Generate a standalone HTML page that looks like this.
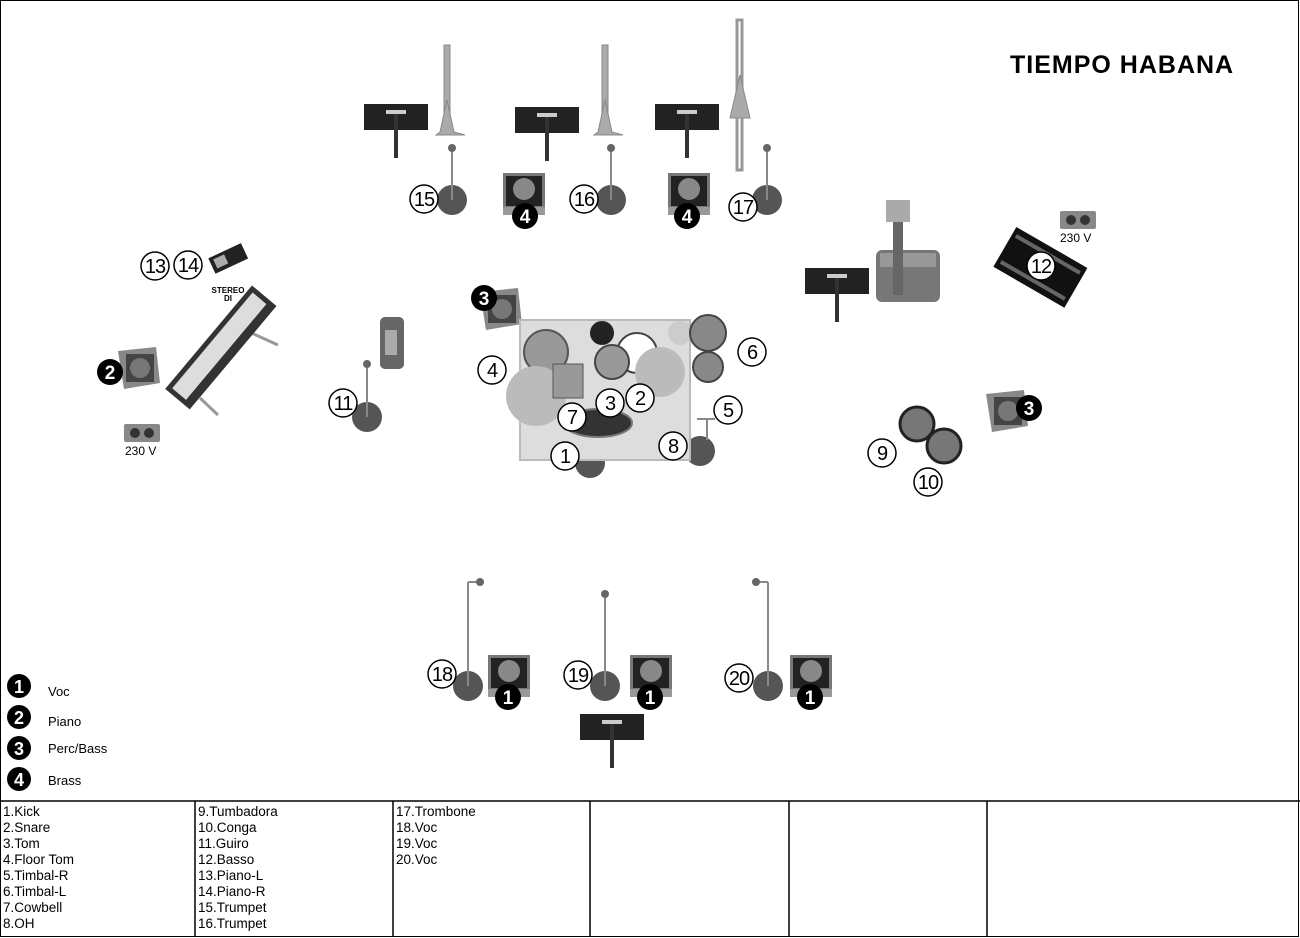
<!DOCTYPE html>
<html><head><meta charset="utf-8"><style>
html,body{margin:0;padding:0;background:#fff}
svg{display:block}
text{font-family:"Liberation Sans",sans-serif}
</style></head><body>
<svg width="1300" height="938" viewBox="0 0 1300 938" xmlns="http://www.w3.org/2000/svg">
<defs>
<g id="mon"><rect x="0" y="0" width="42" height="42" fill="#777"/><rect x="3" y="3" width="36" height="30" fill="#222"/><circle cx="21" cy="16" r="11" fill="#888"/><rect x="0" y="34" width="42" height="8" fill="#999"/></g>
<g id="stand"><rect x="0" y="0" width="64" height="26" fill="#222"/><rect x="22" y="6" width="20" height="4" fill="#ccc"/><rect x="30" y="10" width="4" height="44" fill="#333"/></g>
<g id="wedge"><polygon points="0,4 38,0 42,36 6,42" fill="#888"/><rect x="8" y="7" width="28" height="28" fill="#444"/><circle cx="22" cy="21" r="10" fill="#777"/></g>
<g id="outlet"><rect x="0" y="0" width="36" height="18" rx="2" fill="#888"/><circle cx="11" cy="9" r="5" fill="#333"/><circle cx="25" cy="9" r="5" fill="#333"/></g>
</defs>
<rect x="0.5" y="0.5" width="1298" height="936" fill="#fff" stroke="#000"/>
<text x="1010" y="73" font-size="25" font-weight="bold" letter-spacing="1">TIEMPO HABANA</text>

<use href="#stand" x="364" y="104"/><use href="#stand" x="515" y="107"/><use href="#stand" x="655" y="104"/><use href="#stand" x="805" y="268"/><use href="#stand" x="580" y="714"/>

<g fill="#aaa" stroke="#888"><rect x="444" y="45" width="6" height="80"/><polygon points="440,132 447,100 454,132 465,135 436,135"/>
<rect x="602" y="45" width="6" height="80"/><polygon points="598,132 605,100 612,132 623,135 594,135"/>
<rect x="737" y="20" width="5" height="150" fill="none" stroke="#999" stroke-width="3"/><polygon points="730,118 740,75 750,118"/></g>

<g fill="#555"><circle cx="452" cy="200" r="15"/><circle cx="611" cy="200" r="15"/><circle cx="767" cy="200" r="15"/><circle cx="367" cy="417" r="15"/><circle cx="590" cy="463" r="15"/><circle cx="700" cy="451" r="15"/><circle cx="468" cy="686" r="15"/><circle cx="605" cy="686" r="15"/><circle cx="768" cy="686" r="15"/></g>
<g stroke="#888" stroke-width="2"><line x1="452" y1="148" x2="452" y2="200"/><line x1="611" y1="148" x2="611" y2="200"/><line x1="767" y1="148" x2="767" y2="200"/><line x1="367" y1="364" x2="367" y2="417"/><line x1="468" y1="582" x2="468" y2="686"/><line x1="605" y1="594" x2="605" y2="686"/><line x1="768" y1="582" x2="768" y2="686"/><line x1="468" y1="582" x2="482" y2="582"/><line x1="754" y1="582" x2="768" y2="582"/></g>
<g fill="#666"><circle cx="452" cy="148" r="4"/><circle cx="611" cy="148" r="4"/><circle cx="767" cy="148" r="4"/><circle cx="367" cy="364" r="4"/><circle cx="605" cy="594" r="4"/><circle cx="480" cy="582" r="4"/><circle cx="756" cy="582" r="4"/></g>

<use href="#mon" x="503" y="173"/><use href="#mon" x="668" y="173"/><use href="#mon" x="488" y="655"/><use href="#mon" x="630" y="655"/><use href="#mon" x="790" y="655"/>
<use href="#wedge" x="480" y="288"/><use href="#wedge" x="118" y="347"/><use href="#wedge" x="986" y="390"/>

<use href="#outlet" x="1060" y="211"/><text x="1060" y="242" font-size="12">230 V</text>
<use href="#outlet" x="124" y="424"/><text x="125" y="455" font-size="12">230 V</text>

<g transform="rotate(-25 228 258)"><rect x="210" y="250" width="36" height="17" fill="#222"/><rect x="214" y="253" width="12" height="10" fill="#aaa"/></g>
<text x="228" y="293" font-size="8" font-weight="bold" text-anchor="middle">STEREO</text><text x="228" y="301" font-size="8" font-weight="bold" text-anchor="middle">DI</text>

<g stroke="#999" stroke-width="3"><line x1="245" y1="330" x2="278" y2="345"/><line x1="200" y1="398" x2="218" y2="415"/></g>
<g transform="rotate(-50 220 350)"><rect x="155" y="333" width="135" height="32" fill="#333"/><rect x="160" y="338" width="125" height="18" fill="#ddd"/></g>

<rect x="380" y="317" width="24" height="52" rx="5" fill="#666"/><rect x="385" y="330" width="12" height="25" fill="#aaa"/>

<rect x="520" y="320" width="170" height="140" fill="#ddd" stroke="#bbb" stroke-width="2"/>
<circle cx="546" cy="352" r="22" fill="#999" stroke="#555" stroke-width="2"/>
<circle cx="602" cy="333" r="12" fill="#222"/>
<circle cx="680" cy="333" r="12" fill="#ccc"/>
<circle cx="637" cy="353" r="20" fill="#fff" stroke="#444" stroke-width="2"/>
<circle cx="612" cy="362" r="17" fill="#999" stroke="#444" stroke-width="2"/>
<circle cx="660" cy="372" r="25" fill="#bbb"/>
<circle cx="536" cy="396" r="30" fill="#bbb"/>
<rect x="553" y="364" width="30" height="34" fill="#999" stroke="#555"/>
<ellipse cx="598" cy="423" rx="34" ry="14" fill="#333" stroke="#777" stroke-width="2"/>
<circle cx="708" cy="333" r="18" fill="#888" stroke="#444" stroke-width="2"/>
<circle cx="708" cy="367" r="15" fill="#888" stroke="#444" stroke-width="2"/>
<line x1="697" y1="419" x2="715" y2="419" stroke="#888" stroke-width="2"/><line x1="707" y1="419" x2="707" y2="440" stroke="#888" stroke-width="2"/>

<g transform="rotate(30 1040 266)"><rect x="1000" y="244" width="82" height="46" fill="#111"/><rect x="1004" y="250" width="74" height="4" fill="#666"/><rect x="1004" y="280" width="74" height="4" fill="#666"/></g>
<rect x="876" y="250" width="64" height="52" rx="6" fill="#777"/><rect x="880" y="253" width="56" height="14" fill="#999"/>
<rect x="893" y="220" width="10" height="75" fill="#666"/><rect x="886" y="200" width="24" height="22" fill="#aaa"/>

<circle cx="917" cy="424" r="17" fill="#777" stroke="#222" stroke-width="3"/>
<circle cx="944" cy="446" r="17" fill="#777" stroke="#222" stroke-width="3"/>

<g font-size="20" text-anchor="middle" font-family="Liberation Sans Narrow,Liberation Sans,sans-serif" letter-spacing="-1">
<g fill="#fff" stroke="#000" stroke-width="1.5">
<circle cx="424" cy="199" r="14"/><circle cx="584" cy="199" r="14"/><circle cx="743" cy="207" r="14"/><circle cx="155" cy="266" r="14"/><circle cx="188" cy="265" r="14"/><circle cx="343" cy="403" r="14"/><circle cx="492" cy="370" r="14"/><circle cx="752" cy="352" r="14"/><circle cx="728" cy="410" r="14"/><circle cx="640" cy="398" r="14"/><circle cx="610" cy="403" r="14"/><circle cx="572" cy="417" r="14"/><circle cx="565" cy="456" r="14"/><circle cx="673" cy="446" r="14"/><circle cx="882" cy="453" r="14"/><circle cx="928" cy="482" r="14"/><circle cx="1041" cy="266" r="14"/><circle cx="442" cy="674" r="14"/><circle cx="578" cy="675" r="14"/><circle cx="739" cy="678" r="14"/></g>
<text x="424" y="206">15</text><text x="584" y="206">16</text><text x="743" y="214">17</text><text x="155" y="273">13</text><text x="188" y="272">14</text><text x="343" y="410">11</text><text x="492" y="377">4</text><text x="752" y="359">6</text><text x="728" y="417">5</text><text x="640" y="405">2</text><text x="610" y="410">3</text><text x="572" y="424">7</text><text x="565" y="463">1</text><text x="673" y="453">8</text><text x="882" y="460">9</text><text x="928" y="489">10</text><text x="1041" y="273">12</text><text x="442" y="681">18</text><text x="578" y="682">19</text><text x="739" y="685">20</text>
</g>
<g font-size="19" font-weight="bold" text-anchor="middle" fill="#fff">
<g fill="#000"><circle cx="525" cy="216" r="13"/><circle cx="687" cy="216" r="13"/><circle cx="508" cy="697" r="13"/><circle cx="650" cy="697" r="13"/><circle cx="810" cy="697" r="13"/><circle cx="484" cy="298" r="13"/><circle cx="110" cy="372" r="13"/><circle cx="1029" cy="408" r="13"/>
<circle cx="19" cy="686" r="12"/><circle cx="19" cy="717" r="12"/><circle cx="19" cy="748" r="12"/><circle cx="19" cy="779" r="12"/></g>
<text x="525" y="223">4</text><text x="687" y="223">4</text><text x="508" y="704">1</text><text x="650" y="704">1</text><text x="810" y="704">1</text><text x="484" y="305">3</text><text x="110" y="379">2</text><text x="1029" y="415">3</text>
<text x="19" y="693" font-size="18">1</text><text x="19" y="724" font-size="18">2</text><text x="19" y="755" font-size="18">3</text><text x="19" y="786" font-size="18">4</text>
</g>
<g font-size="13"><text x="48" y="696">Voc</text><text x="48" y="726">Piano</text><text x="48" y="753">Perc/Bass</text><text x="48" y="785">Brass</text></g>

<g stroke="#000" stroke-width="1.5"><line x1="0" y1="801" x2="1300" y2="801"/>
<line x1="195" y1="801" x2="195" y2="936"/><line x1="393" y1="801" x2="393" y2="936"/><line x1="590" y1="801" x2="590" y2="936"/><line x1="789" y1="801" x2="789" y2="936"/><line x1="987" y1="801" x2="987" y2="936"/></g>
<g font-size="13.5">
<text x="3" y="816">1.Kick</text><text x="3" y="832">2.Snare</text><text x="3" y="848">3.Tom</text><text x="3" y="864">4.Floor Tom</text><text x="3" y="880">5.Timbal-R</text><text x="3" y="896">6.Timbal-L</text><text x="3" y="912">7.Cowbell</text><text x="3" y="928">8.OH</text>
<text x="198" y="816">9.Tumbadora</text><text x="198" y="832">10.Conga</text><text x="198" y="848">11.Guiro</text><text x="198" y="864">12.Basso</text><text x="198" y="880">13.Piano-L</text><text x="198" y="896">14.Piano-R</text><text x="198" y="912">15.Trumpet</text><text x="198" y="928">16.Trumpet</text>
<text x="396" y="816">17.Trombone</text><text x="396" y="832">18.Voc</text><text x="396" y="848">19.Voc</text><text x="396" y="864">20.Voc</text>
</g>
</svg>
</body></html>
